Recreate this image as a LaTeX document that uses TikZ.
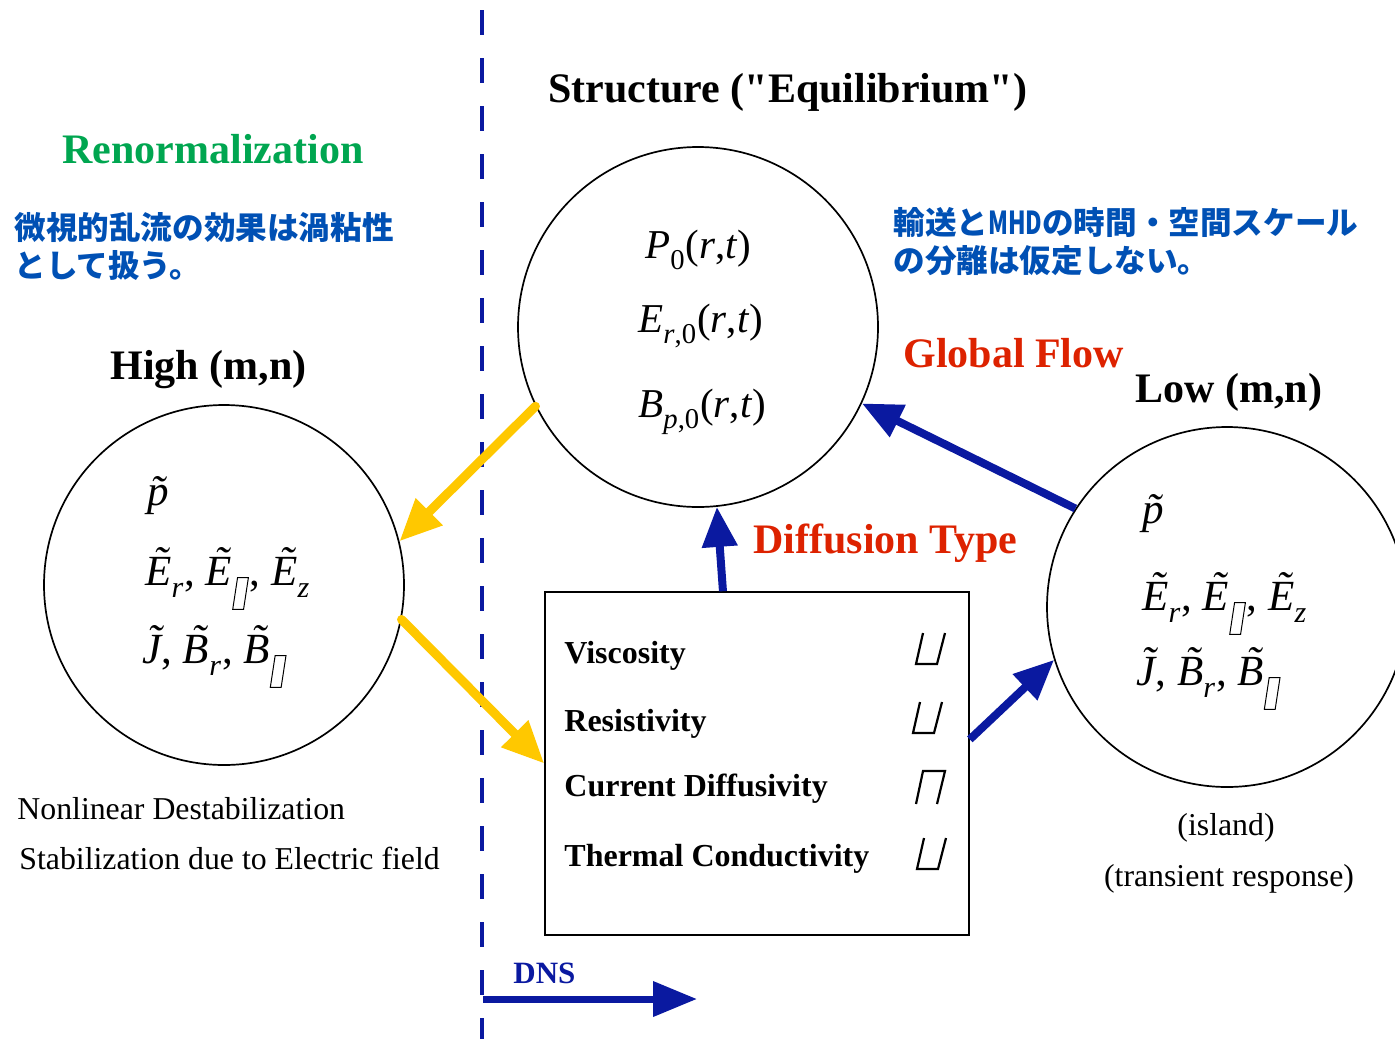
\documentclass[tikz,border=0pt]{standalone}
\usepackage{fontspec}
\setmainfont{Liberation Serif}[Ligatures=TeXOff]
\newfontfamily\jpfont{Noto Sans CJK JP}
\usetikzlibrary{arrows.meta, positioning, calc}
\definecolor{dnsblue}{HTML}{0A19A0}
\definecolor{jpblue}{HTML}{0050B4}
\definecolor{flowred}{HTML}{DD2200}
\definecolor{rngreen}{HTML}{00A650}
\definecolor{ylw}{HTML}{FFC800}

% broken glyph as printed (slanted empty box)
\newcommand{\tofu}{\tikz[baseline=0pt, x=1em, y=1em, line width=0.5pt]\draw (0,-0.4) -- (0.36,-0.4) -- (0.52,0.65) -- (0.16,0.65) -- cycle;}
\newcommand{\tlde}[1]{\accent"02DC #1}
\newcommand{\lowsub}[1]{\raisebox{-0.14em}{\textsubscript{#1}}}
\newcommand{\rtarg}{(\textit{r},\textit{t})}

\tikzset{
  opentop/.pic={\draw[line width=1.1pt] (7,-31) -- (0,0) -- (21,0) -- (29,-31);},
  openbot/.pic={\draw[line width=1.1pt] (0,0) -- (7,-33) -- (29,-33) -- (21,0);}
}

\begin{document}
\begin{tikzpicture}[x=0.5pt, y=-0.5pt,
  bigcircle/.style={draw, circle, line width=0.85pt, minimum size=180pt, inner sep=0pt},
  head/.style={font=\fontsize{21}{24}\selectfont\bfseries, anchor=base west, inner sep=0pt},
  item/.style={font=\fontsize{16}{19}\selectfont\bfseries, anchor=base west, inner sep=0pt},
  note/.style={font=\fontsize{15.9}{18}\selectfont, inner sep=0pt},
  jptext/.style={font=\jpfont\bfseries\fontsize{15.8}{19}\selectfont, text=jpblue, anchor=base west, inner sep=0pt},
  mathside/.style={font=\fontsize{21.5}{26}\selectfont, anchor=base west, inner sep=0pt},
  mathmid/.style={font=\fontsize{20.5}{26}\selectfont, anchor=base west, inner sep=0pt},
  yarrow/.style={ylw, line width=4.5pt, line cap=round, -{Triangle[length=21pt, width=18pt]}},
  barrow/.style={dnsblue, line width=4pt, -{Triangle[length=20pt, width=17pt]}}
]

\useasboundingbox (0,0) rectangle (1395,1039);

% Divider
\draw[dnsblue, line width=1.7pt, dash pattern=on 12.5pt off 11.5pt] (482,10) -- (482,1039);

% Circles and box
\node[bigcircle] (eq) at (698,327) {};
\node[bigcircle] (high) at (224,585) {};
\node[bigcircle] (low) at (1227,607) {};
\node[draw, line width=0.8pt, minimum width=212pt, minimum height=171.5pt, inner sep=0pt] (box) at (757,763.5) {};

% Headings
\node[head] (title) at (548,102) {Structure ("Equilibrium")};
\node[head, text=rngreen] (renorm) at (62,163) {Renormalization};
\node[head] (highlbl) at (110,379) {High (m,n)};
\node[head] (lowlbl) at (1135,402) {Low (m,n)};
\node[head, text=flowred] (global) at (903,367) {Global Flow};
\node[head, text=flowred] (diff) at (753,553) {Diffusion Type};

% Japanese notes
\node[jptext] (jpl1) at (14,239) {微視的乱流の効果は渦粘性};
\node[jptext] (jpl2) at (14,277) {として扱う。};
\node[jptext] (jpr1) at (893,234) {輸送と\scalebox{0.72}[1]{MHD}の時間・空間スケール};
\node[jptext] (jpr2) at (893,272) {の分離は仮定しない。};

% Equilibrium quantities
\node[mathmid] (p0) at (645,258) {\textit{P}\lowsub{0}\rtarg};
\node[mathmid] (er0) at (638,332) {\textit{E}\lowsub{\textit{r},0}\rtarg};
\node[mathmid] (bp0) at (638,417) {\textit{B}\lowsub{\textit{p},0}\rtarg};

% High (m,n) fluctuations
\node[mathside] (hp) at (147,505) {\textit{\tlde{p}}};
\node[mathside] (he) at (145,585) {\textit{\tlde{E}}\lowsub{\textit{r}}, \textit{\tlde{E}}\lowsub{\tofu}, \textit{\tlde{E}}\lowsub{\textit{z}}};
\node[mathside] (hj) at (142,663) {\textit{\tlde{J}}, \textit{\tlde{B}}\lowsub{\textit{r}}, \textit{\tlde{B}}\lowsub{\tofu}};

% Low (m,n) fluctuations
\node[mathside] (lp) at (1142,523) {\textit{\tlde{p}}};
\node[mathside] (le) at (1142,610) {\textit{\tlde{E}}\lowsub{\textit{r}}, \textit{\tlde{E}}\lowsub{\tofu}, \textit{\tlde{E}}\lowsub{\textit{z}}};
\node[mathside] (lj) at (1136,685) {\textit{\tlde{J}}, \textit{\tlde{B}}\lowsub{\textit{r}}, \textit{\tlde{B}}\lowsub{\tofu}};

% Transport coefficients
\node[item] (visc) at (564,663) {Viscosity};
\node[item] (resist) at (564,731) {Resistivity};
\node[item] (curr) at (564,796) {Current Diffusivity};
\node[item] (therm) at (564,866) {Thermal Conductivity};
\pic at (916,664) {opentop};
\pic at (913,733) {opentop};
\pic at (916,804) {openbot};
\pic at (917,869) {opentop};

% Notes
\node[note, anchor=base west] (nonlin) at (17,819) {Nonlinear Destabilization};
\node[note, anchor=base west] (stab) at (19,869) {Stabilization due to Electric field};
\node[note, anchor=base] (island) at (1226,835) {(island)};
\node[note, anchor=base] (trans) at (1229,886) {(transient response)};

% DNS
\node[font=\fontsize{15.5}{18}\selectfont\bfseries, text=dnsblue, anchor=base west, inner sep=0pt] (dns) at (513,983) {DNS};
\coordinate (dnsstart) at (483,999);
\coordinate (dnsend) at (697,999);
\draw[dnsblue, line width=3.5pt, -{Triangle[length=22pt, width=17pt]}] (dnsstart) -- (dnsend);

% Connectors
\draw[yarrow] (eq.206) -- (high.14);
\draw[yarrow] (high.349) -- (box.west);
\draw[barrow] (low.147) -- (eq.335);
\draw[barrow] ($(box.north west)!0.42!(box.north east)$) -- (eq.276);
\draw[barrow] ($(box.north east)!0.43!(box.south east)$) -- (low.197);

\end{tikzpicture}
\end{document}
